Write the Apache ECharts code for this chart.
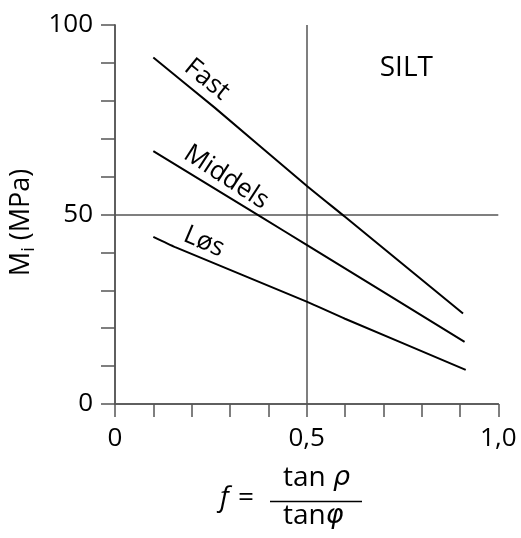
<!DOCTYPE html>
<html>
<head>
<meta charset="utf-8">
<script src="https://cdn.jsdelivr.net/npm/echarts@6/dist/echarts.min.js"></script>
<style>
html,body{margin:0;padding:0;background:#fff;}
#chart{width:521px;height:538px;}
</style>
</head>
<body>
<div id="chart"></div>
<script>
// Data
const fastX = [0.10, 0.26, 0.50, 0.60, 0.908];
const fastY = [91.4, 78.2, 57.6, 49.4, 23.9];
const middelsX = [0.10, 0.382, 0.50, 0.912];
const middelsY = [66.7, 49.3, 42.0, 16.4];
const losX = [0.10, 0.157, 0.50, 0.60, 0.915];
const losY = [44.1, 41.4, 27.0, 22.5, 9.0];
const xTickLabels = {0: '0', 0.5: '0,5', 1: '1,0'};
const yTickLabels = {0: '0', 50: '50', 100: '100'};
const curveNames = ['Fast', 'Middels', 'Løs'];
const annotX = [0.24, 0.29, 0.232];
const annotY = [85.6, 59.8, 42.8];
const annotRot = [-39, -33, -23];
const regionName = 'SILT';
const regionX = 0.76;
const regionY = 88.6;

const zip = (xs, ys) => xs.map((x, i) => [x, ys[i]]);
const FONT = '"Open Sans", "Noto Sans", sans-serif';
const frameColor = '#555';

const chart = echarts.init(document.getElementById('chart'));
const lineStyle = {color: '#000', width: 2};

const curves = [zip(fastX, fastY), zip(middelsX, middelsY), zip(losX, losY)];
const series = curves.map((d, i) => ({
  type: 'line', name: curveNames[i], data: d, showSymbol: false, symbol: 'none',
  lineStyle: lineStyle, smooth: 0.2, silent: true, z: 5
}));
const textPoints = annotX.map((x, i) => ({
  coord: [x, annotY[i]],
  label: {show: true, formatter: curveNames[i], rotate: annotRot[i], position: 'inside',
    fontSize: 26, color: '#000', fontFamily: FONT}
}));
textPoints.push({coord: [regionX, regionY],
  label: {show: true, formatter: regionName, fontSize: 28, color: '#000', fontFamily: FONT, position: 'inside'}});
series[0].markLine = {
  silent: true, symbol: 'none', label: {show: false},
  lineStyle: {color: frameColor, width: 1.5, type: 'solid'},
  data: [{xAxis: 0.5}, {yAxis: 50}]
};
series[0].markPoint = {silent: true, symbol: 'circle', symbolSize: 1, itemStyle: {color: 'rgba(0,0,0,0)'}, data: textPoints};

chart.setOption({
  animation: false,
  backgroundColor: '#fff',
  grid: {left: 112.3, right: 22.7, top: 25, bottom: 134},
  xAxis: [{
    type: 'value', min: 0, max: 1, interval: 0.1,
    axisLine: {show: true, lineStyle: {color: frameColor, width: 1.5}},
    axisTick: {show: true, length: 13, lineStyle: {color: frameColor, width: 1.5}},
    axisLabel: {
      margin: 22, fontSize: 26, color: '#000', fontFamily: FONT,
      formatter: v => { const k = Math.round(v * 10) / 10; return xTickLabels[k] !== undefined ? xTickLabels[k] : ''; },
      showMinLabel: true, showMaxLabel: true
    },
    splitLine: {show: false}
  }, {
    type: 'value', position: 'top', min: 0, max: 1,
    axisLine: {show: true, lineStyle: {color: frameColor, width: 1.5}},
    axisTick: {show: false}, axisLabel: {show: false}, splitLine: {show: false}
  }],
  yAxis: [{
    type: 'value', min: 0, max: 100, interval: 10,
    name: '{m|M}{sub|i}{m| (MPa)}', nameLocation: 'middle', nameGap: 66,
    nameTextStyle: {fontSize: 27, color: '#000', fontFamily: FONT, padding: [0, 16, 0, 0],
      rich: {
        m: {fontSize: 27, fontFamily: FONT, color: '#000'},
        sub: {fontSize: 18, fontFamily: FONT, color: '#000', padding: [14, 0, 0, 0]}
      }},
    axisLine: {show: true, lineStyle: {color: frameColor, width: 1.5}},
    axisTick: {show: true, length: 14, lineStyle: {color: frameColor, width: 1.5}},
    axisLabel: {
      margin: 22, fontSize: 26, color: '#000', fontFamily: FONT,
      formatter: v => yTickLabels[v] !== undefined ? yTickLabels[v] : ''
    },
    splitLine: {show: false}
  }, {
    type: 'value', position: 'right', min: 0, max: 100,
    axisLine: {show: true, lineStyle: {color: frameColor, width: 1.5}},
    axisTick: {show: false}, axisLabel: {show: false}, splitLine: {show: false}
  }],
  series: series,
  graphic: [
    {type: 'text', left: 220, top: 484, style: {text: 'f', font: 'italic 28px ' + FONT, fill: '#000'}},
    {type: 'text', left: 238, top: 484, style: {text: '=', font: '28px ' + FONT, fill: '#000'}},
    {type: 'line', shape: {x1: 270, y1: 501.5, x2: 362, y2: 501.5}, style: {stroke: '#000', lineWidth: 1.5}},
    {type: 'text', left: 283, top: 464, style: {rich: {a: {fontSize: 28, fontFamily: FONT, fill: '#000'}, b: {fontSize: 27, fontStyle: 'italic', fontFamily: '"DejaVu Sans", sans-serif', fill: '#000'}}, text: '{a|tan }{b|ρ}'}},
    {type: 'text', left: 283, top: 502, style: {rich: {a: {fontSize: 28, fontFamily: FONT, fill: '#000'}, b: {fontSize: 27, fontStyle: 'italic', fontFamily: '"DejaVu Sans", sans-serif', fill: '#000'}}, text: '{a|tan}{b|φ}'}}
  ]
});
</script>
</body>
</html>
